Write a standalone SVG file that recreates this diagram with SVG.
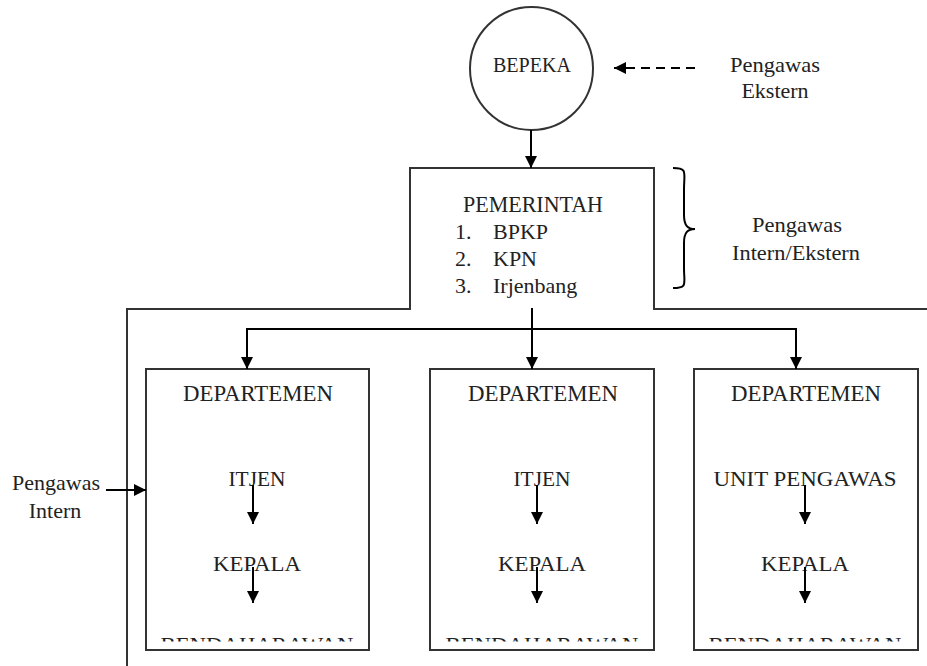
<svg xmlns="http://www.w3.org/2000/svg" width="927" height="666" viewBox="0 0 927 666">
<style>
text{font-family:'Liberation Serif',Tinos,'Noto Serif','DejaVu Serif',FreeSerif,Times,serif;fill:#222;}
.t{font-size:22px;text-anchor:middle;}
.box{fill:none;stroke:#333;stroke-width:2;}
.c{fill:none;stroke:#000;stroke-width:2;}
</style>
<defs>
<marker id="ah" markerUnits="userSpaceOnUse" markerWidth="12" markerHeight="12" viewBox="0 0 12 12" refX="12" refY="6" orient="auto">
<path d="M0,0 L12,6 L0,12 Z" fill="#000"/>
</marker>
<clipPath id="clip"><rect x="0" y="0" width="927" height="641.5"/></clipPath>
</defs>
<rect width="927" height="666" fill="#fff"/>

<g id="bepeka">
<circle cx="531.5" cy="68.5" r="61.5" class="box"/>
<text class="t" x="532" y="72" style="font-size:20px" textLength="78" lengthAdjust="spacingAndGlyphs">BEPEKA</text>
</g>

<g id="pengawas-ekstern">
<text class="t" x="775" y="72" textLength="90" lengthAdjust="spacingAndGlyphs">Pengawas</text>
<text class="t" x="775" y="98">Ekstern</text>
</g>

<g id="pemerintah">
<path class="box" d="M127,666 L127,309 L410,309 L410,168 L654,168 L654,309 L927,309"/>
<text class="t" x="533" y="212" style="font-size:23px" textLength="140" lengthAdjust="spacingAndGlyphs">PEMERINTAH</text>
<text x="455" y="239" style="font-size:22px">1.</text>
<text x="493" y="239" style="font-size:22px">BPKP</text>
<text x="455" y="266" style="font-size:22px">2.</text>
<text x="493" y="266" style="font-size:22px">KPN</text>
<text x="455" y="293" style="font-size:22px">3.</text>
<text x="493" y="293" style="font-size:22px">Irjenbang</text>
</g>

<g id="pengawas-intern-ekstern">
<path class="c" stroke-width="1.8" d="M673,168 C688,168 684,172 684,190 L684,215 C684,226 688,229 695,229 C688,229 684,232 684,243 L684,268 C684,284 688,288 673,288"/>
<text class="t" x="797" y="232" textLength="90" lengthAdjust="spacingAndGlyphs">Pengawas</text>
<text class="t" x="796" y="260" textLength="128" lengthAdjust="spacingAndGlyphs">Intern/Ekstern</text>
</g>

<g id="pengawas-intern">
<text class="t" x="56" y="490" textLength="88" lengthAdjust="spacingAndGlyphs">Pengawas</text>
<text class="t" x="55" y="518">Intern</text>
</g>

<g id="dept1">
<rect class="box" x="146" y="369" width="223" height="281"/>
<text class="t" x="258" y="401" style="font-size:23px" textLength="150" lengthAdjust="spacingAndGlyphs">DEPARTEMEN</text>
<text class="t" x="257" y="486" textLength="57" lengthAdjust="spacingAndGlyphs">ITJEN</text>
<text class="t" x="257" y="571" textLength="88" lengthAdjust="spacingAndGlyphs">KEPALA</text>
<text class="t" x="257" y="651.5" clip-path="url(#clip)" textLength="193" lengthAdjust="spacingAndGlyphs">BENDAHARAWAN</text>
</g>

<g id="dept2">
<rect class="box" x="430" y="369" width="224" height="281"/>
<text class="t" x="543" y="401" style="font-size:23px" textLength="150" lengthAdjust="spacingAndGlyphs">DEPARTEMEN</text>
<text class="t" x="542" y="486" textLength="57" lengthAdjust="spacingAndGlyphs">ITJEN</text>
<text class="t" x="542" y="571" textLength="88" lengthAdjust="spacingAndGlyphs">KEPALA</text>
<text class="t" x="542" y="651.5" clip-path="url(#clip)" textLength="193" lengthAdjust="spacingAndGlyphs">BENDAHARAWAN</text>
</g>

<g id="dept3">
<rect class="box" x="694" y="369" width="224" height="281"/>
<text class="t" x="806" y="401" style="font-size:23px" textLength="150" lengthAdjust="spacingAndGlyphs">DEPARTEMEN</text>
<text class="t" x="805" y="486" textLength="183" lengthAdjust="spacingAndGlyphs">UNIT PENGAWAS</text>
<text class="t" x="805" y="571" textLength="88" lengthAdjust="spacingAndGlyphs">KEPALA</text>
<text class="t" x="805" y="651.5" clip-path="url(#clip)" textLength="193" lengthAdjust="spacingAndGlyphs">BENDAHARAWAN</text>
</g>

<g id="connectors">
<line class="c" x1="695" y1="68" x2="614" y2="68" stroke-dasharray="9,6" marker-end="url(#ah)"/>
<line class="c" x1="531" y1="130" x2="531" y2="168" marker-end="url(#ah)"/>
<line class="c" x1="532" y1="308" x2="532" y2="369" marker-end="url(#ah)"/>
<line class="c" x1="246" y1="329" x2="797" y2="329"/>
<line class="c" x1="247" y1="328" x2="247" y2="369" marker-end="url(#ah)"/>
<line class="c" x1="796" y1="328" x2="796" y2="369" marker-end="url(#ah)"/>
<line class="c" x1="106" y1="490" x2="146" y2="490" marker-end="url(#ah)"/>
<line class="c" x1="253" y1="485" x2="253" y2="524" marker-end="url(#ah)"/>
<line class="c" x1="253" y1="567" x2="253" y2="603" marker-end="url(#ah)"/>
<line class="c" x1="537" y1="485" x2="537" y2="524" marker-end="url(#ah)"/>
<line class="c" x1="537" y1="567" x2="537" y2="603" marker-end="url(#ah)"/>
<line class="c" x1="805" y1="485" x2="805" y2="524" marker-end="url(#ah)"/>
<line class="c" x1="805" y1="567" x2="805" y2="603" marker-end="url(#ah)"/>
</g>
</svg>
